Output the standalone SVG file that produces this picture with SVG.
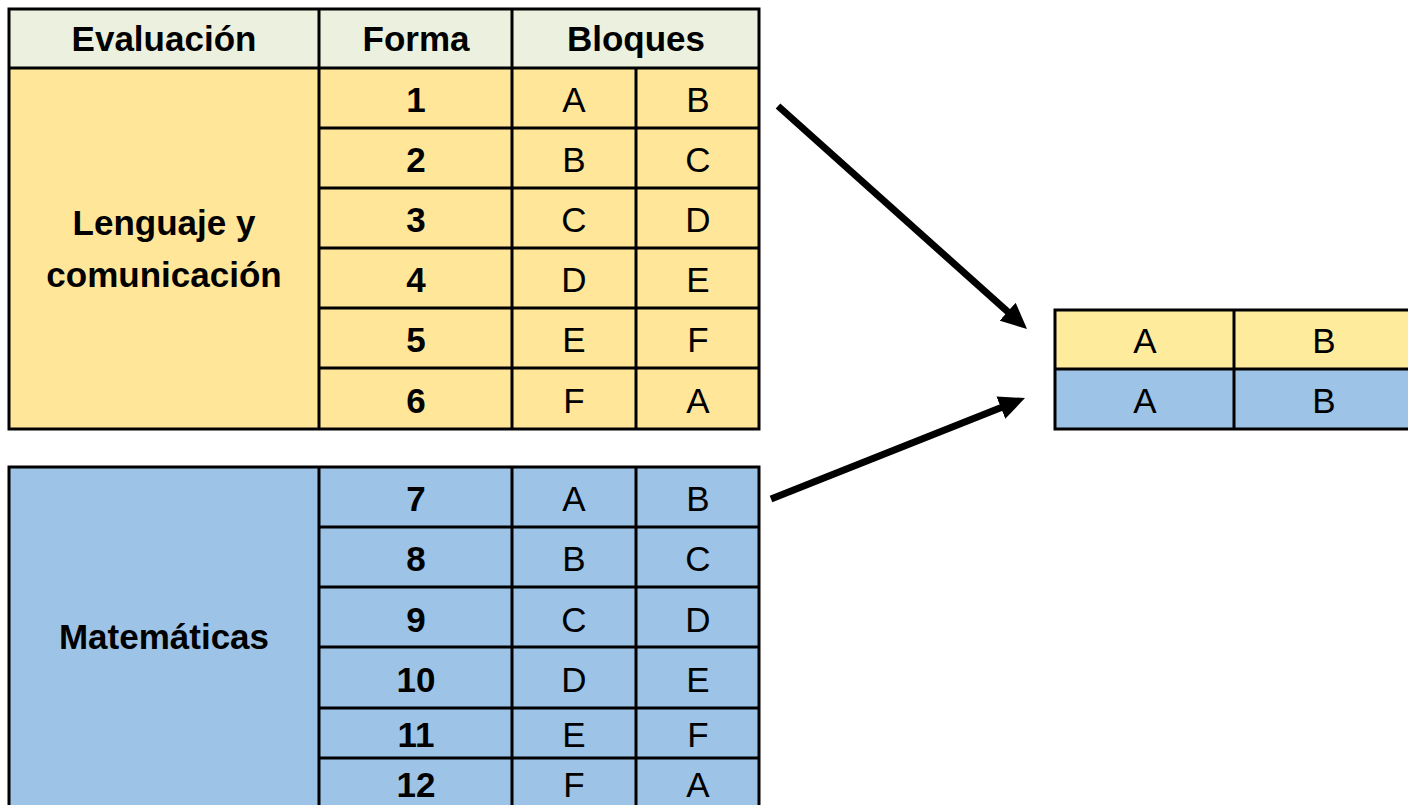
<svg xmlns="http://www.w3.org/2000/svg" width="1408" height="805" viewBox="0 0 1408 805">
<defs>
<marker id="ah" markerUnits="userSpaceOnUse" markerWidth="26" markerHeight="24" viewBox="0 0 26 24" refX="12" refY="12" orient="auto">
<path d="M0,0 L26,12 L0,24 Z" fill="#000"/>
</marker>
<style>
.hd{fill:#EBF1DE}
.y{fill:#FFE699}
.y2{fill:#FFEB9C}
.b{fill:#9DC3E6}
.ln{stroke:#000;stroke-width:3;fill:none}
text{font-family:"Liberation Sans",Arial,sans-serif;font-size:35px;text-anchor:middle;fill:#000}
.bd{font-weight:bold}
.arr{stroke:#000;stroke-width:7;fill:none}
</style>
</defs>
<rect width="1408" height="805" fill="#fff"/>
<g id="table-lenguaje">
<rect class="hd" x="9" y="9" width="750" height="59"/>
<rect class="y" x="9" y="68" width="750" height="361"/>
<g class="ln">
<rect x="9" y="9" width="750" height="420"/>
<line x1="9" y1="68" x2="759" y2="68"/>
<line x1="319" y1="9" x2="319" y2="429"/>
<line x1="512" y1="9" x2="512" y2="429"/>
<line x1="636" y1="68" x2="636" y2="429"/>
<line x1="319" y1="128" x2="759" y2="128"/>
<line x1="319" y1="188" x2="759" y2="188"/>
<line x1="319" y1="248" x2="759" y2="248"/>
<line x1="319" y1="308" x2="759" y2="308"/>
<line x1="319" y1="368" x2="759" y2="368"/>
</g>
<text class="bd" x="164" y="51">Evaluación</text>
<text class="bd" x="416" y="51">Forma</text>
<text class="bd" x="636" y="51">Bloques</text>
<text class="bd" x="164" y="235">Lenguaje y</text>
<text class="bd" x="164" y="287">comunicación</text>
<text class="bd" x="416" y="112">1</text><text x="574" y="112">A</text><text x="698" y="112">B</text>
<text class="bd" x="416" y="172">2</text><text x="574" y="172">B</text><text x="698" y="172">C</text>
<text class="bd" x="416" y="232">3</text><text x="574" y="232">C</text><text x="698" y="232">D</text>
<text class="bd" x="416" y="292">4</text><text x="574" y="292">D</text><text x="698" y="292">E</text>
<text class="bd" x="416" y="352">5</text><text x="574" y="352">E</text><text x="698" y="352">F</text>
<text class="bd" x="416" y="413">6</text><text x="574" y="413">F</text><text x="698" y="413">A</text>
</g>
<g id="table-matematicas">
<rect class="b" x="9" y="467" width="750" height="345"/>
<g class="ln">
<rect x="9" y="467" width="750" height="345"/>
<line x1="319" y1="467" x2="319" y2="812"/>
<line x1="512" y1="467" x2="512" y2="812"/>
<line x1="636" y1="467" x2="636" y2="812"/>
<line x1="319" y1="527" x2="759" y2="527"/>
<line x1="319" y1="587" x2="759" y2="587"/>
<line x1="319" y1="647" x2="759" y2="647"/>
<line x1="319" y1="708" x2="759" y2="708"/>
<line x1="319" y1="758" x2="759" y2="758"/>
</g>
<text class="bd" x="164" y="649">Matemáticas</text>
<text class="bd" x="416" y="511">7</text><text x="574" y="511">A</text><text x="698" y="511">B</text>
<text class="bd" x="416" y="571">8</text><text x="574" y="571">B</text><text x="698" y="571">C</text>
<text class="bd" x="416" y="632">9</text><text x="574" y="632">C</text><text x="698" y="632">D</text>
<text class="bd" x="416" y="692">10</text><text x="574" y="692">D</text><text x="698" y="692">E</text>
<text class="bd" x="416" y="747">11</text><text x="574" y="747">E</text><text x="698" y="747">F</text>
<text class="bd" x="416" y="797">12</text><text x="574" y="797">F</text><text x="698" y="797">A</text>
</g>
<g id="table-result">
<rect class="y2" x="1055" y="310" width="360" height="59"/>
<rect class="b" x="1055" y="369" width="360" height="60"/>
<g class="ln">
<rect x="1055" y="310" width="360" height="119"/>
<line x1="1055" y1="369" x2="1415" y2="369"/>
<line x1="1234" y1="310" x2="1234" y2="429"/>
</g>
<text x="1145" y="353">A</text><text x="1324" y="353">B</text>
<text x="1145" y="413">A</text><text x="1324" y="413">B</text>
</g>
<g id="connectors">
<line class="arr" x1="778" y1="106" x2="1016.6" y2="319.7" marker-end="url(#ah)"/>
<line class="arr" x1="771" y1="499" x2="1012" y2="403.2" marker-end="url(#ah)"/>
</g>
</svg>
